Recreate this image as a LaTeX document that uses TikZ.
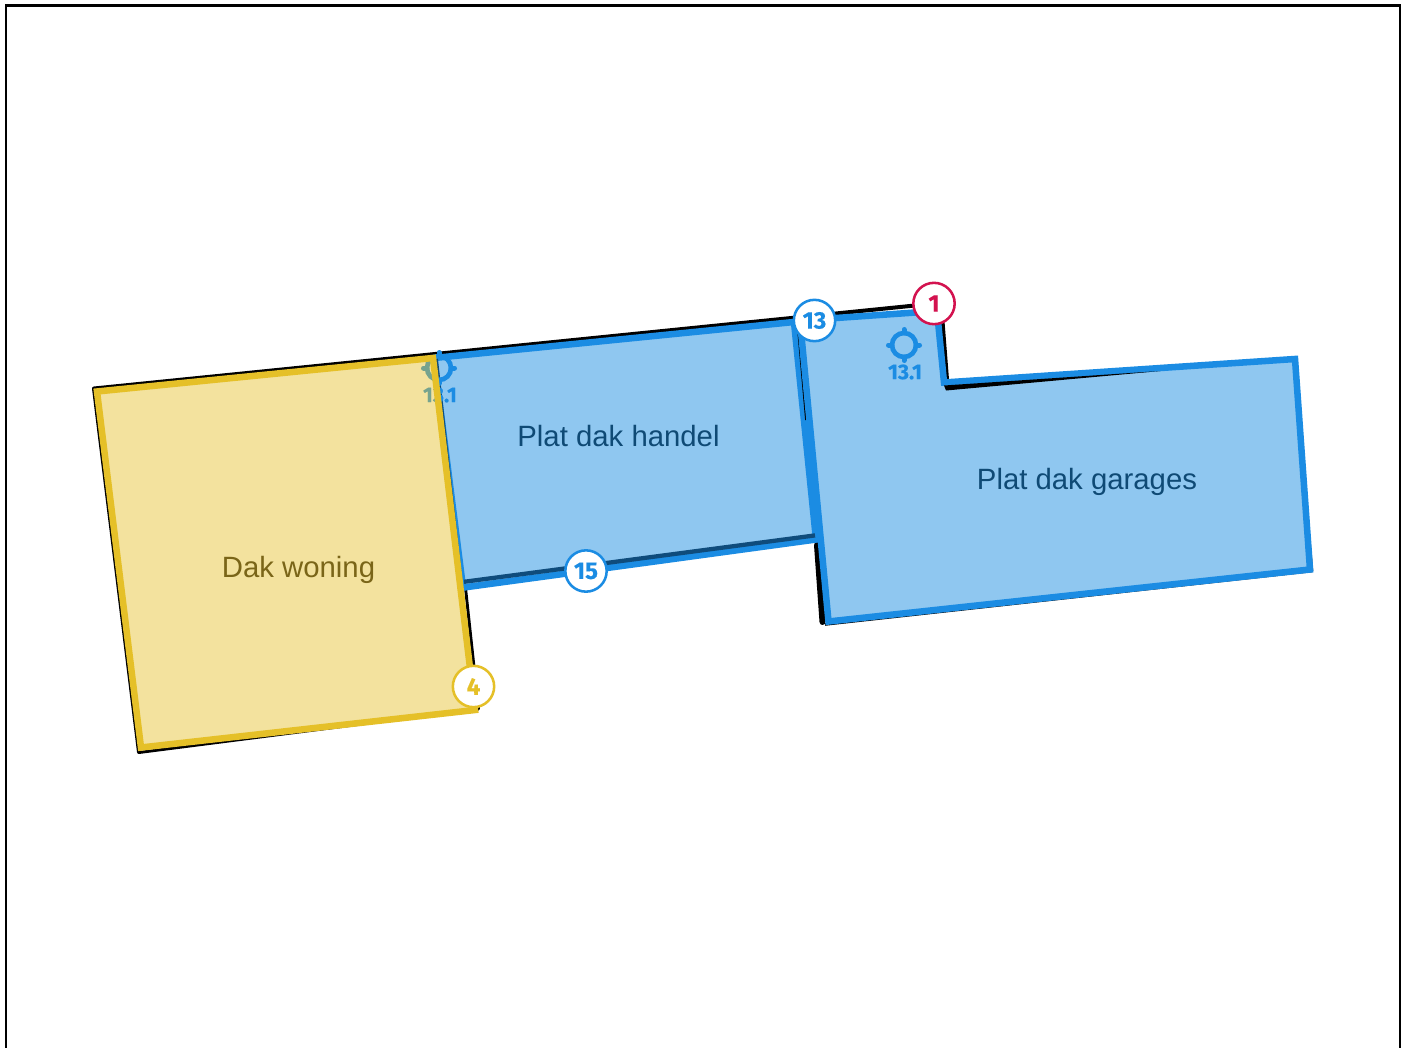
\documentclass[tikz,border=0pt]{standalone}
\usepackage{fontspec}
\setmainfont{Liberation Sans}
\newfontfamily\badgefont{Fira Sans}[UprightFont=* Bold,FakeBold=0.3]
\definecolor{bluestroke}{HTML}{1B8CE3}
\definecolor{bluefill}{HTML}{8FC7F0}
\definecolor{navyline}{HTML}{0F4C7C}
\definecolor{yellowstroke}{HTML}{E5C028}
\definecolor{yellowtext}{HTML}{7A6518}
\definecolor{bluetext}{HTML}{0F4A75}
\definecolor{redstroke}{HTML}{D3124F}
\tikzset{
  x=0.75pt,y=-0.75pt,
  outline/.style={draw=black,line width=3pt,line join=round,line cap=round},
  bluearea/.style={fill=bluefill,draw=bluestroke,line width=4.9pt,line join=miter},
  yellowarea/.style={draw=yellowstroke,line width=4.9pt,line join=miter},
  arealabel/.style={font=\fontsize{22}{26}\selectfont,inner sep=0pt},
  badge/.style={circle,fill=white,draw=#1,text=#1,line width=1.9pt,minimum size=31pt,inner sep=0pt,font=\badgefont\fontsize{18}{20}\selectfont},
  ring/.style={draw=bluestroke,line width=3.5pt},
  tick/.style={draw=bluestroke,line width=3.75pt,line cap=round},
  marktext/.style={text=bluestroke,font=\badgefont\fontsize{16}{18}\selectfont,inner sep=0pt}
}
\newcommand{\crosshair}[1]{%
  \draw[ring] (#1) circle[radius=12];
  \draw[tick] ([yshift=-12*0.75pt]#1) -- ([yshift=-15.5*0.75pt]#1);
  \draw[tick] ([yshift=12*0.75pt]#1) -- ([yshift=15.5*0.75pt]#1);
  \draw[tick] ([xshift=-12*0.75pt]#1) -- ([xshift=-15.5*0.75pt]#1);
  \draw[tick] ([xshift=12*0.75pt]#1) -- ([xshift=15.5*0.75pt]#1);
}
\begin{document}
\begin{tikzpicture}
\useasboundingbox (0,0) rectangle (1405,1048);
\clip (0,0) rectangle (1405,1048);
\fill[white] (0,0) rectangle (1405,1048);
\draw[black,line width=1.9pt] (6,1070) -- (6,5.5) -- (1400,5.5) -- (1400,1070);
% black building outline
\draw[outline] (139,752) -- (94,388.5) -- (915,305.5) -- (942,315) -- (947.5,386);
\draw[black,line width=2.2pt,line join=round,line cap=round] (465.5,588) -- (478.5,709) -- (139,752.5);
\draw[black,line width=4.5pt,line cap=round] (817,545) -- (822.5,622);
\draw[black,line width=1.9pt,line join=round] (1293,360) -- (1312,571) -- (825,624.5);
% blue areas
\coordinate (hA) at (434,358);
\coordinate (hB) at (794,322);
\coordinate (hC) at (816,539.5);
\coordinate (hD) at (463,587.6);
\filldraw[bluearea] (hA) -- (hB) -- (hC) -- (hD) -- cycle;
\draw[navyline,line width=3.2pt] (464,581.8) -- (815,535.4);
\draw[navyline,line width=2pt] (436.5,358) -- (461,580);
\draw[black,line width=1.3pt] (797.7,326) -- (806,420);
\filldraw[bluearea] (800,320.5) -- (937,311) -- (944,382.5) -- (1295,359) -- (1310,569.5) -- (828.5,621.5) -- cycle;
% black showing under the notch edge
\fill[black,line join=round] (944,385.5) -- (1160,371) -- (946,390.5) -- cycle;
% crosshairs
\crosshair{904,345}
\node[marktext] (markB) at (905,372) {13.1};
\crosshair{439,368}
\node[marktext] (markA) at (440,395) {13.1};
% yellow area
\fill[yellowstroke,fill opacity=0.45] (97,391.5) -- (433,358) -- (475,710) -- (141,747.5) -- cycle;
\draw[yellowarea] (97,391.5) -- (433,358) -- (475,710) -- (141,747.5) -- cycle;
% labels
\node[arealabel,text=yellowtext] (woning) at (298.5,570) {Dak woning};
\node[arealabel,text=bluetext] (handel) at (618.5,436) {Plat dak handel};
\node[arealabel,text=bluetext] (garages) at (1087,481.5) {Plat dak garages};
% badges
\node[badge=bluestroke] (b13) at (814.5,320.5) {13};
\node[badge=redstroke] (b1) at (934,303.5) {1};
\node[badge=bluestroke] (b15) at (586,571) {15};
\node[badge=yellowstroke] (b4) at (473.5,686.5) {4};
\end{tikzpicture}
\end{document}
